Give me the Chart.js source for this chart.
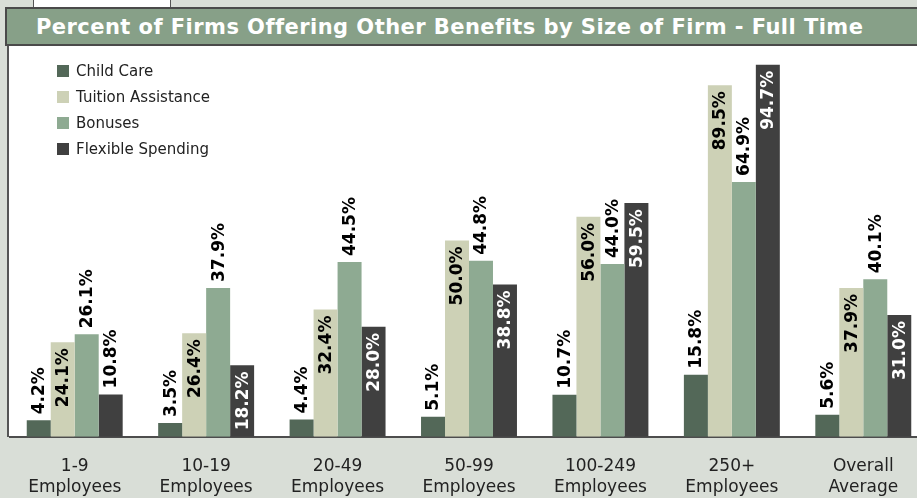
<!DOCTYPE html>
<html>
<head>
<meta charset="utf-8">
<script src="https://cdn.jsdelivr.net/npm/chart.js@4"></script>
<style>
  body { margin: 0; width: 917px; height: 498px; overflow: hidden; position: relative; background: #d9ded7; font-family: "DejaVu Sans", Verdana, sans-serif; }
  #tab { position: absolute; left: 33px; top: -2px; width: 136px; height: 8px; background: #fff; border: 1px solid #555; }
  #title { position: absolute; left: 5px; top: 7px; width: 930px; height: 35px; background: #87a088; border: 2px solid #4a4a4a; color: #fff; font-weight: bold; font-size: 21px; letter-spacing: 0.45px; line-height: 36px; padding-left: 29px; box-sizing: content-box; }
  #plot { position: absolute; left: 7px; top: 46px; width: 930px; height: 391px; background: #fff; border-left: 2px solid #555; }
  #wrap { position: absolute; left: 9px; top: 44px; width: 920px; height: 475px; }
  #legend { position: absolute; left: 57px; top: 62px; font-size: 15px; color: #222; }
  #legend div { height: 26px; display: flex; align-items: flex-start; }
  #legend span.box { width: 12px; height: 12px; margin-right: 7px; margin-top: 3px; }
</style>
</head>
<body>
<div id="tab"></div>
<div id="title">Percent of Firms Offering Other Benefits by Size of Firm - Full Time</div>
<div id="plot"></div>
<div id="wrap"><canvas id="chart" width="920" height="475"></canvas></div>
<div id="legend"></div>
<script>
const categories = [
  ["1-9", "Employees"],
  ["10-19", "Employees"],
  ["20-49", "Employees"],
  ["50-99", "Employees"],
  ["100-249", "Employees"],
  ["250+", "Employees"],
  ["Overall", "Average"],
];
const childCare = [4.2, 3.5, 4.4, 5.1, 10.7, 15.8, 5.6];
const tuition = [24.1, 26.4, 32.4, 50.0, 56.0, 89.5, 37.9];
const bonuses = [26.1, 37.9, 44.5, 44.8, 44.0, 64.9, 40.1];
const flexible = [10.8, 18.2, 28.0, 38.8, 59.5, 94.7, 31.0];

const seriesNames = ["Child Care", "Tuition Assistance", "Bonuses", "Flexible Spending"];
const seriesColors = ["#536858", "#cdd1b6", "#8eaa92", "#404040"];
const labelInside = [false, true, false, true];
const insideTextColors = ["#000", "#000", "#000", "#fff"];

const labelFont = "bold 17px 'DejaVu Sans', Verdana, sans-serif";

// rotated value labels above or inside the bar top
const valueLabels = {
  id: "valueLabels",
  afterDatasetsDraw(chart) {
    const ctx = chart.ctx;
    ctx.save();
    ctx.font = labelFont;
    ctx.textBaseline = "middle";
    chart.data.datasets.forEach((ds, i) => {
      const meta = chart.getDatasetMeta(i);
      meta.data.forEach((bar, j) => {
        const text = ds.data[j].toFixed(1) + "%";
        const tw = ctx.measureText(text).width;
        const h = bar.base - bar.y;
        const inside = labelInside[i] && h > tw + 12;
        ctx.save();
        if (inside) {
          ctx.translate(bar.x + 1, bar.y + 6);
          ctx.rotate(-Math.PI / 2);
          ctx.textAlign = "right";
          ctx.fillStyle = insideTextColors[i];
        } else {
          ctx.translate(bar.x + 1, bar.y - 6);
          ctx.rotate(-Math.PI / 2);
          ctx.textAlign = "left";
          ctx.fillStyle = "#000";
        }
        ctx.fillText(text, 0, 0);
        ctx.restore();
      });
    });
    ctx.restore();
  },
};

const datasets = [childCare, tuition, bonuses, flexible].map((d, i) => ({
  label: seriesNames[i],
  data: d,
  backgroundColor: seriesColors[i],
  borderWidth: 0,
  categoryPercentage: 0.73,
  barPercentage: 1,
}));

const chart = new Chart(document.getElementById("chart"), {
  type: "bar",
  data: { labels: categories, datasets: datasets },
  options: {
    responsive: false,
    devicePixelRatio: 1,
    animation: false,
    layout: { padding: { top: 0, bottom: 2, left: 0, right: 0 } },
    plugins: { legend: { display: false }, tooltip: { enabled: false } },
    scales: {
      x: {
        grid: { display: false, drawTicks: false },
        border: { color: "#4d4d4d", width: 2 },
        ticks: {
          padding: 19,
          color: "#222",
          font: { family: "'DejaVu Sans', Verdana, sans-serif", size: 17, lineHeight: 1.24 },
          maxRotation: 0,
        },
      },
      y: { display: false, min: 0, max: 100 },
    },
  },
  plugins: [valueLabels],
});

// legend built from the chart's datasets
const legend = document.getElementById("legend");
chart.data.datasets.forEach((ds) => {
  const row = document.createElement("div");
  row.innerHTML = '<span class="box" style="background:' + ds.backgroundColor + '"></span><span>' + ds.label + "</span>";
  legend.appendChild(row);
});
</script>
</body>
</html>
